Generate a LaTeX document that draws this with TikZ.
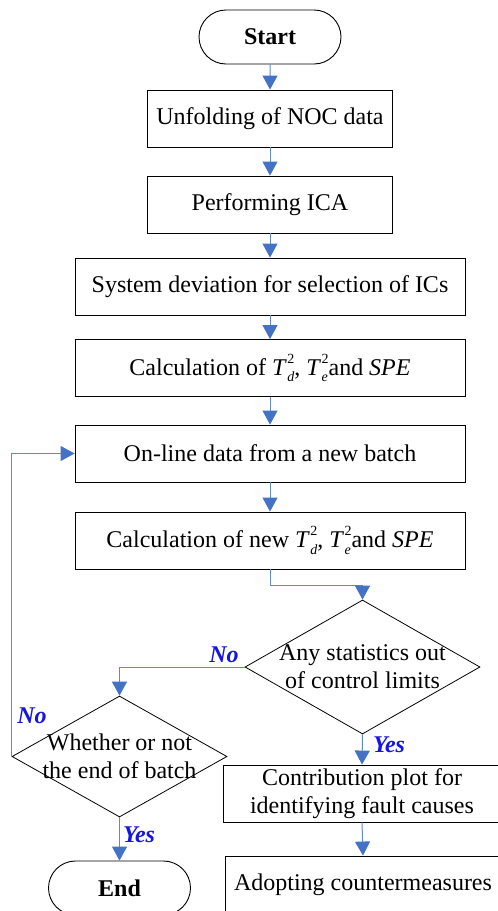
\documentclass[tikz,border=0pt]{standalone}
\usepackage{fontspec}
\setmainfont{Liberation Serif}
\usetikzlibrary{arrows.meta,shapes.geometric,shapes.misc}

\definecolor{flowline}{RGB}{96,137,204}
\definecolor{flowhead}{RGB}{68,114,196}
\definecolor{answerblue}{RGB}{20,20,228}

% T with stacked subscript and superscript 2
\newcommand{\Tstat}[1]{\textit{T}\kern0.5pt\makebox[0pt][l]{\raisebox{-0.6ex}{\fontsize{14}{14}\selectfont\textit{#1}}}\raisebox{1.1ex}{\fontsize{14}{14}\selectfont 2}}

\begin{document}
\begin{tikzpicture}[x=1pt,y=-1pt,
  every node/.style={font=\fontsize{24}{28}\selectfont},
  proc/.style={draw=black, line width=0.9pt, minimum height=57pt, inner sep=0pt},
  term/.style={draw=black, line width=0.9pt, rounded rectangle, minimum width=142pt, minimum height=54pt, inner sep=0pt},
  decision/.style={draw=black, line width=0.8pt, diamond, inner sep=0pt},
  conn/.style={draw=flowline, line width=1pt, -{Triangle[width=15pt,length=14pt,fill=flowhead,color=flowhead]}},
  answer/.style={text=answerblue, font=\fontsize{24}{28}\selectfont\bfseries\itshape, inner sep=0pt}
]
\useasboundingbox (0,0) rectangle (498,911);

% terminals and process steps
\node[term, font=\fontsize{24}{28}\selectfont\bfseries] (start) at (270,37) {Start};
\node[proc, minimum width=245pt] (unfold) at (270,118.5) {Unfolding of NOC data};
\node[proc, minimum width=245pt] (ica) at (270,204.5) {Performing ICA};
\node[proc, minimum width=390pt] (select) at (270,286.5) {System deviation for selection of ICs};
\node[proc, minimum width=390pt] (calc) at (270,368) {Calculation of \Tstat{d}, \Tstat{e}and \textit{SPE}};
\node[proc, minimum width=390pt] (online) at (270,453.5) {On-line data from a new batch};
\node[proc, minimum width=390pt] (calcnew) at (270,540.5) {Calculation of new \Tstat{d}, \Tstat{e}and \textit{SPE}};

% decisions
\node[decision, minimum width=235pt, minimum height=134pt] (limits) at (362.5,667) {};
\node[align=center, inner sep=0pt] at (limits) {Any statistics out\\of control limits};
\node[decision, minimum width=215pt, minimum height=121pt] (batchend) at (119.5,756.5) {};
\node[align=center, inner sep=0pt] at (batchend) {Whether or not\\the end of batch};

% fault handling and end
\node[proc, minimum width=278pt, align=center] (contrib) at (362,793.5) {Contribution plot for\\identifying fault causes};
\node[proc, minimum width=276pt] (adopt) at (363,884.5) {Adopting countermeasures};
\node[term, font=\fontsize{24}{28}\selectfont\bfseries] (finish) at (119.5,888) {End};

% connectors
\draw[conn] (start) -- (unfold);
\draw[conn] (unfold) -- (ica);
\draw[conn] (ica) -- (select);
\draw[conn] (select) -- (calc);
\draw[conn] (calc) -- (online);
\draw[conn] (online) -- (calcnew);
\draw[conn] (calcnew.south) -- ++(0,16) -| (limits.north);
\draw[conn] (limits.west) -| (batchend.north);
\draw[conn] (limits.south) -- (contrib.north);
\draw[conn] (contrib.south) -- (adopt.north);
\draw[conn] (batchend.south) -- (finish.north);
\draw[conn] (batchend.west) |- (online.west);

% branch labels
\node[answer] at (224,655) {No};
\node[answer] at (32,716) {No};
\node[answer] at (389,745) {Yes};
\node[answer] at (139,835) {Yes};
\end{tikzpicture}
\end{document}
